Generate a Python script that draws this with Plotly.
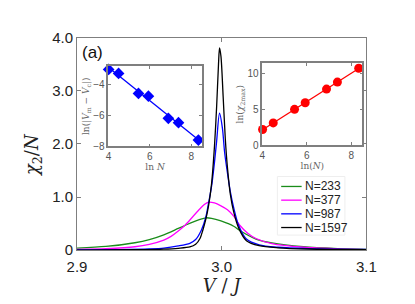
import numpy as np
import plotly.graph_objects as go

# ---- main panel data ----
v_233 = [2.900, 2.920, 2.940, 2.950, 2.960, 2.970, 2.975, 2.980, 2.985, 2.989, 2.993, 2.9995, 3.0083, 3.0125, 3.0237, 3.0347, 3.0566, 3.080, 3.100]
y_233 = [0.040, 0.070, 0.140, 0.200, 0.290, 0.410, 0.470, 0.530, 0.580, 0.610, 0.600, 0.550, 0.450, 0.370, 0.210, 0.137, 0.065, 0.030, 0.015]

v_377 = [2.900, 2.920, 2.940, 2.950, 2.960, 2.965, 2.970, 2.975, 2.980, 2.985, 2.988, 2.991, 2.995, 2.9995, 3.004, 3.0083, 3.0125, 3.018, 3.0237, 3.0347, 3.0566, 3.080, 3.100]
y_377 = [0.015, 0.030, 0.065, 0.110, 0.190, 0.260, 0.360, 0.480, 0.630, 0.780, 0.860, 0.905, 0.890, 0.835, 0.760, 0.640, 0.470, 0.320, 0.220, 0.124, 0.055, 0.025, 0.012]

v_987 = [2.900, 2.930, 2.950, 2.960, 2.970, 2.978, 2.982, 2.986, 2.989, 2.991, 2.993, 2.995, 2.9965, 2.9985, 3.0005, 3.002, 3.004, 3.006, 3.0083, 3.0117, 3.0171, 3.0259, 3.039, 3.060, 3.100]
y_987 = [0.005, 0.012, 0.025, 0.040, 0.080, 0.130, 0.200, 0.380, 0.620, 0.900, 1.200, 1.650, 2.050, 2.580, 2.300, 1.850, 1.450, 1.100, 0.800, 0.470, 0.210, 0.100, 0.055, 0.030, 0.015]

v_1597 = [2.900, 2.940, 2.960, 2.970, 2.978, 2.982, 2.985, 2.987, 2.989, 2.991, 2.993, 2.995, 2.9965, 2.9978, 2.9985, 2.9995, 3.001, 3.0025, 3.004, 3.006, 3.0083, 3.0117, 3.0171, 3.0259, 3.039, 3.060, 3.100]
y_1597 = [0.003, 0.010, 0.020, 0.035, 0.060, 0.110, 0.220, 0.380, 0.580, 0.850, 1.250, 1.950, 2.700, 3.500, 3.810, 3.650, 2.900, 2.100, 1.550, 1.050, 0.720, 0.420, 0.180, 0.085, 0.045, 0.022, 0.010]

series_names = ["N=233", "N=377", "N=987", "N=1597"]
series_colors = ["#1a8c1a", "#ff00ff", "#0000ff", "#000000"]

# ---- inset data ----
lnN = [4.01, 4.49, 5.45, 5.93, 6.89, 7.38, 8.34]
ln_dV = [-3.06, -3.32, -4.60, -4.78, -6.20, -6.48, -7.60]
ln_chi = [2.19, 3.12, 5.03, 5.96, 7.87, 8.85, 10.80]

main_xticks = [2.9, 3.0, 3.1]
main_xtext = ["2.9", "3.0", "3.1"]
main_yticks = [0, 1, 2, 3, 4]
main_ytext = ["0", "1.0", "2.0", "3.0", "4.0"]

W, H = 415, 304
fig = go.Figure()

for vx, vy, nm, col in zip([v_233, v_377, v_987, v_1597], [y_233, y_377, y_987, y_1597], series_names, series_colors):
    fig.add_trace(go.Scatter(x=vx, y=vy, mode="lines", name=nm, line=dict(color=col, width=1.3, shape="spline", smoothing=0.8),
                             xaxis="x", yaxis="y", showlegend=False))

# inset 1
p1 = np.polyfit(lnN, ln_dV, 1)
fx = np.array([lnN[0], lnN[-1]])
fig.add_trace(go.Scatter(x=fx, y=np.polyval(p1, fx), mode="lines", line=dict(color="#0000ff", width=1.3),
                         showlegend=False, xaxis="x2", yaxis="y2", cliponaxis=False))
fig.add_trace(go.Scatter(x=lnN, y=ln_dV, mode="markers", marker=dict(symbol="diamond", size=9, color="#0000ff"),
                         showlegend=False, xaxis="x2", yaxis="y2", cliponaxis=False))
# inset 2
p2 = np.polyfit(lnN, ln_chi, 1)
fig.add_trace(go.Scatter(x=fx, y=np.polyval(p2, fx), mode="lines", line=dict(color="#ff0000", width=1.3),
                         showlegend=False, xaxis="x3", yaxis="y3", cliponaxis=False))
fig.add_trace(go.Scatter(x=lnN, y=ln_chi, mode="markers", marker=dict(symbol="circle", size=9, color="#ff0000"),
                         showlegend=False, xaxis="x3", yaxis="y3", cliponaxis=False))

axcol = "#7f7f7f"
tickfont_main = dict(family="Liberation Sans, Arial", size=15, color="#222222")
tickfont_in = dict(family="Liberation Sans, Arial", size=10, color="#555555")

fig.update_layout(
    width=W, height=H,
    margin=dict(l=0, r=0, t=0, b=0),
    paper_bgcolor="white", plot_bgcolor="white",
    showlegend=False,
    xaxis=dict(domain=[0.1494, 0.8819], range=[2.9, 3.1], tickvals=main_xticks, ticktext=main_xtext,
               ticks="inside", ticklen=4, tickcolor=axcol, showline=True, linecolor=axcol, linewidth=1,
               mirror="ticks", showgrid=False, zeroline=False, tickfont=tickfont_main, ticklabelstandoff=3,
               title=dict(text="<i>V</i> / <i>J</i>", font=dict(family="DejaVu Serif", size=18, color="#222222"), standoff=2),
               anchor="y"),
    yaxis=dict(domain=[0.1875, 0.9276], range=[0, 4], tickvals=main_yticks, ticktext=main_ytext,
               ticks="inside", ticklen=4, tickcolor=axcol, showline=True, linecolor=axcol, linewidth=1,
               mirror="ticks", showgrid=False, zeroline=False, tickfont=tickfont_main,
               anchor="x"),
    xaxis2=dict(domain=[0.2289, 0.4651], range=[4, 8.5], tickvals=[4, 6, 8], ticks="inside", ticklen=3,
                tickcolor=axcol, showline=True, linecolor=axcol, linewidth=1.5, mirror="ticks", showgrid=False,
                zeroline=False, tickfont=tickfont_in, anchor="y2",
                title=dict(text="ln <i>N</i>", font=dict(family="DejaVu Serif", size=9, color="#666666"), standoff=2)),
    yaxis2=dict(domain=[0.5493, 0.8289], range=[-8, -2.85], tickvals=[-4, -6, -8], ticks="inside", ticklen=3,
                tickcolor=axcol, showline=True, linecolor=axcol, linewidth=1.5, mirror="ticks", showgrid=False,
                zeroline=False, tickfont=tickfont_in, anchor="x2",
                title=dict(text="ln(|<i>V</i><sub>m</sub> − <i>V</i><sub>c</sub>|)", font=dict(family="DejaVu Serif", size=9, color="#666666"), standoff=2)),
    xaxis3=dict(domain=[0.6186, 0.8716], range=[4, 8.5], tickvals=[4, 6, 8], ticks="inside", ticklen=3,
                tickcolor=axcol, showline=True, linecolor=axcol, linewidth=1.5, mirror="ticks", showgrid=False,
                zeroline=False, tickfont=tickfont_in, anchor="y3",
                title=dict(text="ln(<i>N</i>)", font=dict(family="DejaVu Serif", size=9, color="#666666"), standoff=2)),
    yaxis3=dict(domain=[0.5536, 0.8388], range=[0, 11.5], tickvals=[0, 5, 10], ticks="inside", ticklen=3,
                tickcolor=axcol, showline=True, linecolor=axcol, linewidth=1.5, mirror="ticks", showgrid=False,
                zeroline=False, tickfont=tickfont_in, anchor="x3",
                title=dict(text="ln(<i>χ</i><sub>2max</sub>)", font=dict(family="DejaVu Serif", size=9, color="#666666"), standoff=2)),
)

# y-axis title as a rotated annotation
fig.add_annotation(text="<i>χ</i><sub>2</sub>/<i>N</i>", x=16 / W, y=1 - 146 / H, xref="paper", yref="paper",
                   xanchor="center", yanchor="middle", textangle=-90, showarrow=False,
                   font=dict(family="DejaVu Serif", size=18, color="#222222"))

fig.add_annotation(text="(a)", x=0.158, y=0.915, xref="paper", yref="paper", xanchor="left", yanchor="top",
                   showarrow=False, font=dict(family="Liberation Sans, Arial", size=17, color="#111111"))

# compact legend (box, line samples, labels)
leg_left, leg_right, leg_top, leg_bot = 272.5, 343.5, 169, 231
fig.add_shape(type="rect", xref="paper", yref="paper",
              x0=leg_left / W, x1=leg_right / W, y0=1 - leg_bot / H, y1=1 - leg_top / H,
              fillcolor="white", line=dict(color="#eeeeee", width=1))
for i, (nm, col) in enumerate(zip(series_names, series_colors)):
    yy = 1 - (179.5 + 14.5 * i) / H
    fig.add_shape(type="line", xref="paper", yref="paper", x0=276.5 / W, x1=298 / W, y0=yy, y1=yy,
                  line=dict(color=col, width=1.3))
    fig.add_annotation(text=nm, x=299.5 / W, y=yy, xref="paper", yref="paper", xanchor="left", yanchor="middle",
                       showarrow=False, font=dict(family="Liberation Sans, Arial", size=12, color="#222222"))

fig.write_html("out.html")
